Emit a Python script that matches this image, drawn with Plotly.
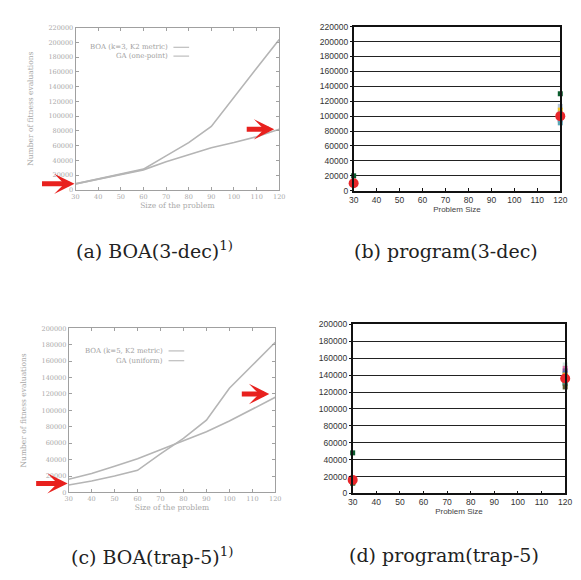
import plotly.graph_objects as go

W, H = 581, 580

# ---------------- data ----------------
sizes = [30, 40, 50, 60, 70, 80, 90, 100, 110, 120]
a_boa = [8000, 14500, 21000, 28000, 46000, 64000, 86000, 126000, 165000, 204000]
a_ga = [8000, 14500, 21000, 27000, 38000, 48000, 57000, 64000, 72000, 82000]
c_boa = [9000, 14000, 20000, 27000, 47000, 66000, 88000, 127000, 155000, 183000]
c_ga = [16000, 23000, 32000, 41000, 52000, 63000, 74000, 87000, 101000, 116000]

prog_x = [30, 120]
b_runs = {
    "#0b5d2e": [20000, 130000],
    "#b7c7d9": [10500, 113000],
    "#f2c31b": [10000, 108000],
    "#a9a9a9": [9500, 104000],
    "#8a5a9e": [9000, 95000],
    "#5aa6b5": [9000, 91000],
    "#9aa0c8": [11000, 97000],
}
b_avg = [10000, 100000]

d_runs = {
    "#0b5d2e": [48000, 131000],
    "#cfe8e0": [14000, 152000],
    "#e07bb0": [13500, 148000],
    "#8a5a9e": [13000, 145000],
    "#4f6fb3": [14500, 142000],
    "#f2c31b": [12500, 140000],
    "#f08a1e": [13000, 133000],
    "#3a9a8a": [12000, 130000],
    "#5c5a2a": [12500, 126000],
}
d_avg = [16000, 136000]

arrows_a = [(30, 8000, -35, 1), (120, 82000, -34, 5)]
arrows_c = [(30, 11000, -34, 1), (120, 120000, -35, 6)]

a_legend = ["BOA (k=3, K2 metric)", "GA (one-point)"]
c_legend = ["BOA (k=5, K2 metric)", "GA (uniform)"]
captions = [
    ("(a) BOA(3-dec)<sup>1)</sup>", 153, 249),
    ("(b) program(3-dec)", 450, 250),
    ("(c) BOA(trap-5)<sup>1)</sup>", 150, 561),
    ("(d) program(trap-5)", 448, 560),
]

def px(v):
    return v / W

def py(v):
    return 1 - v / H

fig = go.Figure()

# scanned BOA plots (a) and (c)
scan_col = "#b5b5b5"
for xa, ya, boa, ga in [("x", "y", a_boa, a_ga), ("x3", "y3", c_boa, c_ga)]:
    fig.add_trace(go.Scatter(x=sizes, y=boa, xaxis=xa, yaxis=ya, mode="lines",
                             line=dict(color=scan_col, width=1.6), showlegend=False))
    fig.add_trace(go.Scatter(x=sizes, y=ga, xaxis=xa, yaxis=ya, mode="lines",
                             line=dict(color=scan_col, width=1.6), showlegend=False))

# program plots (b) and (d)
for xa, ya, runs, avg in [("x2", "y2", b_runs, b_avg), ("x4", "y4", d_runs, d_avg)]:
    for col, vals in runs.items():
        fig.add_trace(go.Scatter(x=prog_x, y=vals, xaxis=xa, yaxis=ya, mode="markers",
                                 marker=dict(color=col, size=5, symbol="square"),
                                 cliponaxis=False, showlegend=False))
    fig.add_trace(go.Scatter(x=prog_x, y=avg, xaxis=xa, yaxis=ya, mode="markers",
                             marker=dict(color="#e8262a", size=10),
                             cliponaxis=False, showlegend=False))

scan_font = dict(family="DejaVu Serif", size=6.5, color="#a8a8a8")
def scan_x(dom, anchor, title):
    return dict(domain=dom, anchor=anchor, range=[30, 120], tickvals=sizes,
                showline=True, linecolor="#a0a0a0", linewidth=1, mirror="ticks",
                ticks="inside", ticklen=3, tickcolor="#a0a0a0", showgrid=False,
                zeroline=False, tickfont=scan_font,
                title=dict(text=title, font=dict(family="DejaVu Serif", size=7.5, color="#a8a8a8"), standoff=1))

def scan_y(dom, anchor, rng, dt, title):
    return dict(domain=dom, anchor=anchor, range=rng, dtick=dt, tickformat="d",
                showline=True, linecolor="#a0a0a0", linewidth=1, mirror="ticks",
                ticks="inside", ticklen=3, tickcolor="#a0a0a0", showgrid=False,
                zeroline=False, tickfont=scan_font,
                title=dict(text=title, font=dict(family="DejaVu Serif", size=7.5, color="#a8a8a8"), standoff=13))

prog_font = dict(family="Liberation Sans", size=8.5, color="#333333")
def prog_x_axis(dom, anchor):
    return dict(domain=dom, anchor=anchor, range=[30, 120], tickvals=sizes,
                showline=True, linecolor="#111111", linewidth=1.5, mirror=True,
                ticks="inside", ticklen=3, tickcolor="#111111", showgrid=False,
                zeroline=False, tickfont=prog_font,
                title=dict(text="Problem Size", font=dict(family="Liberation Sans", size=8, color="#444444"), standoff=2))

def prog_y_axis(dom, anchor, rng):
    return dict(domain=dom, anchor=anchor, range=rng, dtick=20000, tickformat="d",
                showline=True, linecolor="#111111", linewidth=1.5, mirror=True,
                ticks="outside", ticklen=2, tickcolor="#111111",
                showgrid=True, gridcolor="#222222", gridwidth=1.4,
                zeroline=False, tickfont=prog_font)

fig.update_layout(
    width=W, height=H, margin=dict(l=0, r=0, t=0, b=0),
    paper_bgcolor="white", plot_bgcolor="white", showlegend=False,
    xaxis=scan_x([px(72), px(280)], "y", "Size of the problem"),
    yaxis=scan_y([py(188), py(23)], "x", [0, 220000], 20000, "Number of fitness evaluations"),
    xaxis2=prog_x_axis([px(356), px(567)], "y2"),
    yaxis2=prog_y_axis([py(189), py(22)], "x2", [0, 220000]),
    xaxis3=scan_x([px(65), px(276)], "y3", "Size of the problem"),
    yaxis3=scan_y([py(496), py(329)], "x3", [0, 200000], 20000, "Number of fitness evaluations"),
    xaxis4=prog_x_axis([px(355), px(572)], "y4"),
    yaxis4=prog_y_axis([py(497), py(325)], "x4", [0, 200000]),
)

annotations = []
shapes = []

# legends in scanned plots
for labels, xr, ys in [(a_legend, 168, (43, 52)), (c_legend, 163, (352, 362))]:
    for lab, yy in zip(labels, ys):
        annotations.append(dict(text=lab, xref="paper", yref="paper", x=px(xr), y=py(yy),
                                xanchor="right", yanchor="middle", showarrow=False,
                                font=dict(family="DejaVu Serif", size=7, color="#a0a0a0")))
        shapes.append(dict(type="line", xref="paper", yref="paper", x0=px(xr + 4), x1=px(xr + 20),
                           y0=py(yy), y1=py(yy), line=dict(color="#b0b0b0", width=1)))

# red arrows
for (xr, yr, arrows) in [("x", "y", arrows_a), ("x3", "y3", arrows_c)]:
    for (xv, yv, ax, so) in arrows:
        annotations.append(dict(x=xv, y=yv, xref=xr, yref=yr, ax=ax, ay=0, text="",
                                showarrow=True, arrowhead=3, arrowsize=0.68, arrowwidth=5,
                                arrowcolor="#e8211e", standoff=so))

for text, cx, cy in captions:
    annotations.append(dict(text=text, xref="paper", yref="paper", x=px(cx), y=py(cy),
                            xanchor="center", yanchor="middle", showarrow=False,
                            font=dict(family="DejaVu Serif", size=19, color="#222222")))

fig.update_layout(annotations=annotations, shapes=shapes)
fig.write_html("out.html", config={"displayModeBar": False},
               post_script="document.body.style.margin='0';document.body.style.overflow='hidden';")
